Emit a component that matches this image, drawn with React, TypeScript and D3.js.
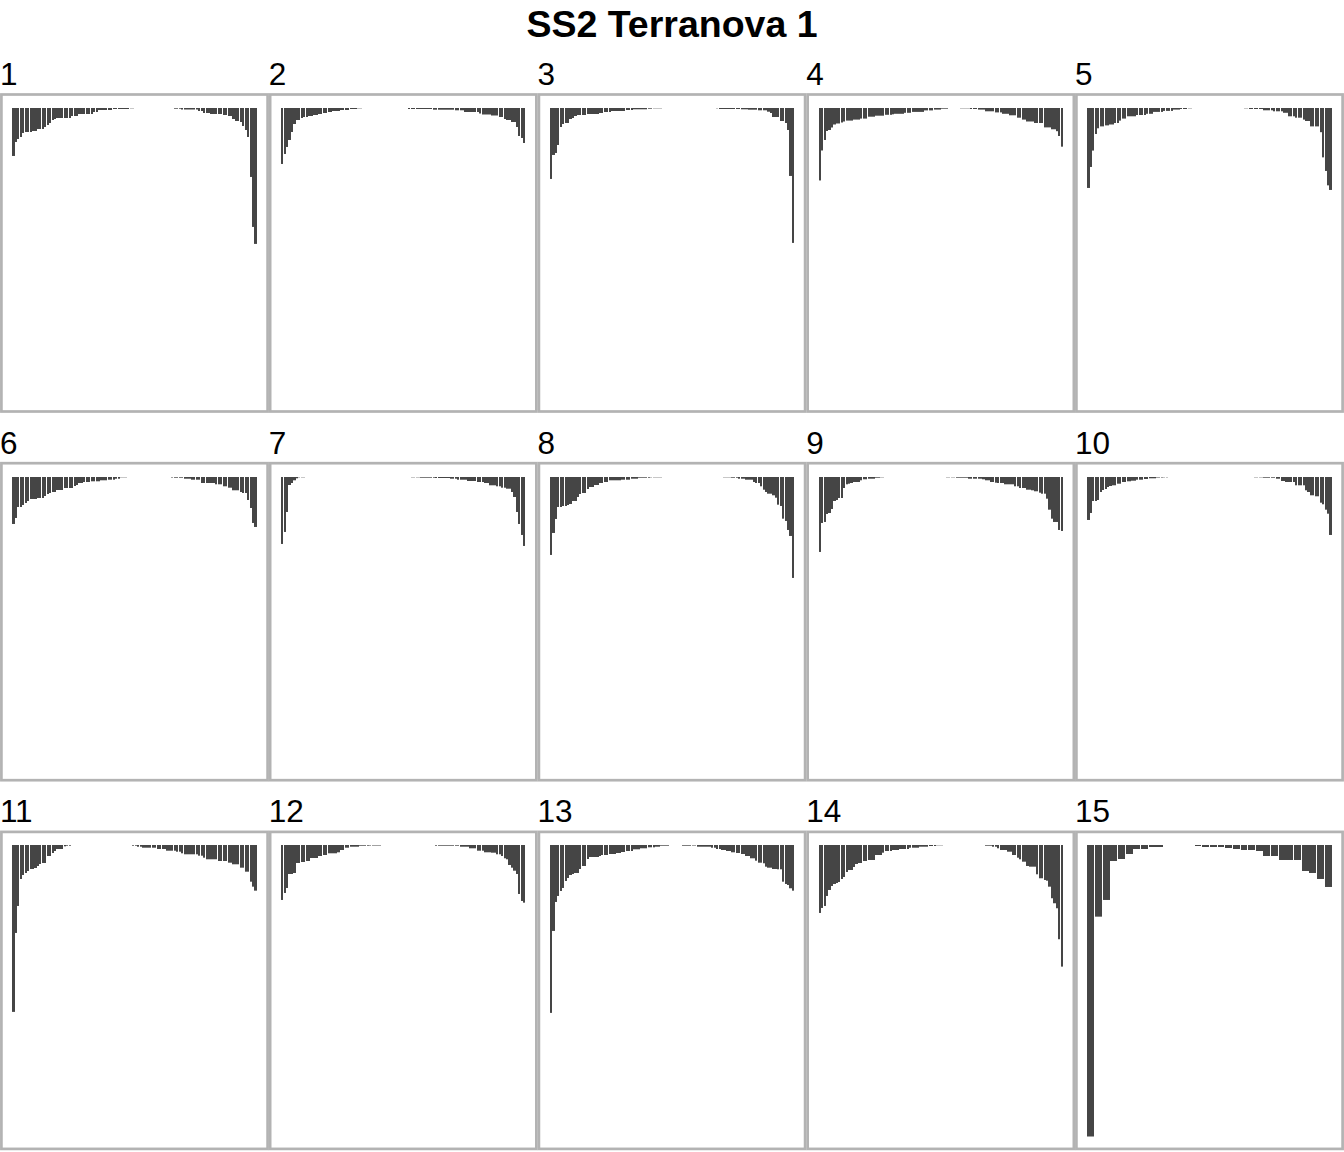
import React from 'react';
import * as d3 from 'd3';

const TITLE = 'SS2 Terranova 1';
const panelLabels = ['1', '2', '3', '4', '5', '6', '7', '8', '9', '10', '11', '12', '13', '14', '15'];

const p1 = [48,34,31,29,25,24,24,24,23,23,
  21,21,21,19,17,15,12,11,10,10,
  10,10,10,10,8,8,8,6,6,6,
  6,6,6,4,4,2,2,2,2,2,
  2,1,1,1,1,1,1,1,0.3,0.3,
  0,0,0,0,0,0,0,0,0,0,
  0,0,0,0,0,0,0.7,0.7,0.7,1.5,
  1.5,1.5,1.5,1.5,1.5,1.5,3,3,5,5,
  5,6,6,6,6,6,7,7,8,8,
  11,13,13,14,18,22,29,69,119,136];
const p2 = [56,46,39,32,24,16,12,12,10,9,
  9,8,8,7,7,6,6,5,5,4,
  4,3,3,3,2,2,2,2,1,1,
  1,0.3,0.3,0,0,0,0,0,0,0,
  0,0,0,0,0,0,0,0,0,0,
  0,0,1,1,1,1,1,1,1,1,
  1,1,1.7,1.7,1.7,1.7,1.7,1.7,1.7,1.7,
  1.7,2.3,2.3,2.3,2.3,4,4,4,4,4,
  4,5.5,6.5,6.5,6.5,6.5,7.5,7.5,7.5,9,
  9,11,12,12,14,14,19,28,30,35];
const p3 = [71,47,45,37,19,16,15,15,11,10,
  8,7,7,7,7,6,6,6,6,6,
  5,5,4,4,4,3,3,3,3,3,
  3,2,2,2,1.3,1.3,1.3,1.3,1.3,1.3,
  0.7,0.7,0.3,0.3,0.3,0.3,0,0,0,0,
  0,0,0,0,0,0,0,0,0,0,
  0,0,0,0,0,0,0,0,0.3,1,
  1,1,1,1,1,1,1,1,1.3,1.3,
  1.3,1.7,1.7,1.7,1.7,2.3,2.3,2.3,2.3,3.7,
  5,9,9,9,13,13,15,22,68,135];
const p4 = [72.5,42.5,32,23,22,19.5,16.5,15.5,15.5,14.5,
  13.5,12.6,12.6,12.6,11.6,11.6,11.6,10.6,10.6,10.6,
  8.7,8.7,8.7,7.7,7.7,7.7,7.7,6.8,6.8,6.8,
  6.3,5.8,5.8,5.8,5.8,4.8,4.8,4.8,3.9,3.9,
  3.9,3.9,3.9,2.4,2.4,2.4,2.4,1.6,1.6,1.6,
  0.7,0.7,0.7,0,0,0,0,0,0.3,0.3,
  0.3,0.3,1,1,1,1.6,1.6,1.6,3.3,3.3,
  3.3,3.3,4.4,4.4,4.4,5.8,5.8,5.8,7.3,7.3,
  7.3,9.7,9.7,11.6,11.6,13.5,13.5,13.5,15,15,
  15,15,19.4,19.4,19.4,21.3,21.3,23.2,28,38.7];
const p5 = [80,59,42.6,26,20.3,18.4,18.4,17.4,17.4,16.5,
  16.5,15,15,12.6,10.6,10.6,8.3,8.3,8.3,8.3,
  7,7,7,7,5.8,5.8,5.8,3.9,3.9,3.9,
  3.9,2.9,2.9,2.9,2.9,1.6,1.6,1.6,1,1,
  1,0.3,0.3,0,0,0,0,0,0,0,
  0,0,0,0,0,0,0,0,0,0,
  0,0,0,0,0.3,0.3,1,1,1,1,
  1,1,2.3,2.3,2.3,2.3,3.3,3.3,3.3,3.3,
  4.8,4.8,8.3,8.3,8.3,9.7,9.7,9.7,11.6,13,
  13,18.4,18.4,18.4,18.4,24.2,49.4,63,77.4,82];
const p6 = [47,41,30,30,28,26,24,22,22,22,
  21,21,21,19,17,16,15,15,13,13,
  13,11,11,11,11,9,8,6,6,5,
  5,5,4.3,4.3,4.3,4.3,3.3,3.3,3.3,2.7,
  2.7,2.7,1.7,1.7,0.3,0.3,0.3,0,0,0,
  0,0,0,0,0,0,0,0,0,0,
  0,0,0,0,0,0.5,0.7,0.7,0.7,0.7,
  1.7,1.7,1.7,2.7,2.7,2.7,2.7,6,6,6,
  6,6,6,7.3,7.3,7.3,9.3,9.3,10.7,10.7,
  13.3,13.3,13.3,15,16,16,23,31,46,50];
const p7 = [67,55,35,8,6,3.3,1.3,0.3,0.3,0.3,
  0,0,0,0,0,0,0,0,0,0,
  0,0,0,0,0,0,0,0,0,0,
  0,0,0,0,0,0,0,0,0,0,
  0,0,0,0,0,0,0,0,0,0,
  0,0,0,0.3,0.3,0.3,0.3,0.7,0.7,0.7,
  0.7,0.7,0.7,1,1,1,1,1,1,1.7,
  1.7,1.7,2.7,2.7,2.7,2.7,4,4,4,4,
  5,5,5,6,6,8.3,8.3,8.3,9.3,9.3,
  10.7,10.7,11.7,11.7,15,20,35,47,58,69];
const p8 = [78,56,42,30,30,29,29,28,27,24,
  24,20,17,16,16,12,10,10,8,8,
  6,6,5,5,3.3,3.3,3.3,3.3,3.3,2.7,
  2.7,2.7,2.7,1.7,1.7,1.7,0.7,0.7,0.7,0.7,
  0.7,0.3,0.3,0.3,0.3,0.3,0,0,0,0,
  0,0,0,0,0,0,0,0,0,0,
  0,0,0,0,0,0,0,0,0,0,
  0,0.3,0.3,0.3,0.7,0.7,0.7,1.7,1.7,1.7,
  2.7,2.7,2.7,5,6,6,9.3,12.7,15,16.7,
  16.7,18.3,20.7,27.7,29,41.7,44,53,59,101];
const p9 = [75,46,45,37,36,32,24,23,21,21,
  11,7.3,6.7,6,5,5,5,3.3,2.3,2.3,
  1.7,1.7,1.7,0.7,0.7,0.3,0.3,0,0,0,
  0,0,0,0,0,0,0,0,0,0,
  0,0,0,0,0,0,0,0,0,0,
  0,0,0.3,0.3,0.3,0.3,0.7,0.7,0.7,0.7,
  0.7,1.7,1.7,1.7,1.7,1.7,1.7,2.3,3.3,3.3,
  5,5,5.7,6,6,6,7.3,7.3,7.3,7.3,
  9.3,9.3,11,11,11,12.7,12.7,13.3,14.3,14.3,
  15.7,16.7,16.7,21.7,32.7,41.7,45,45,53,54];
const p10 = [43,36,24,24,23,15,13,12,10,9,
  8.3,8.3,6.7,6.7,5,5,4.3,4.3,3.7,3.7,
  2.7,2.7,2.7,2,2,1.3,1.3,1.3,0.5,0.5,
  0.5,0.3,0.3,0,0,0,0,0,0,0,
  0,0,0,0,0,0,0,0,0,0,
  0,0,0,0,0,0,0,0,0,0,
  0,0,0,0,0,0,0,0,0.3,0.3,
  0.3,0.3,0.7,0.7,0.7,0.7,0.7,1.7,1.7,4,
  4,5,5,5,5,8.3,8.3,8.3,8.3,13.3,
  15,18.3,18.3,19.3,19.3,25.7,27.3,32.7,36.7,58];
const p11 = [167,88,61,34,30,28,26,24,24,23,
  21,19,18,18,11,11,8,6,4,4,
  4,1.3,0.7,0.7,0,0,0,0,0,0,
  0,0,0,0,0,0,0,0,0,0,
  0,0,0,0,0,0,0,0,0,0.7,
  0.7,1.7,1.7,2.7,2.7,2.7,2.7,2.7,2.7,4,
  4,4,4,5.7,5.7,5.7,5.7,6.7,6.7,8.3,
  9.3,9.3,9.3,9.3,9.3,9.3,10.7,10.7,12.7,14.3,
  14.3,14.3,14.3,14.3,16,16,16,16,17.7,17.7,
  19.3,19.3,19.3,22.7,22.7,26.7,26.7,36.7,41.7,45.7];
const p12 = [55,48,43,29,29,28,18,18,17,17,
  16,16,13,13,13,11,11,10,10,8.3,
  8.3,8.3,8.3,7.3,5,5,2.7,2.7,1.7,1.7,
  1.7,1.7,0.7,0.7,0.7,0.7,0.5,0.5,0.5,0.5,
  0.5,0,0,0,0,0,0,0,0,0,
  0,0,0,0,0,0,0,0,0,0,
  0,0,0,0.7,0.7,0.7,0.7,0.7,0.7,0.7,
  0.7,0.7,0.7,1.7,1.7,1.7,1.7,3.3,3.3,3.3,
  5.7,5.7,5.7,7.3,7.3,7.3,7.7,7.7,9.3,9.3,
  11,13.3,14.3,20,22.7,25.7,29,49,56,57.7];
const p13 = [168,86,57,51,46,43,36,33,30,29,
  28,28,24,21,21,14,12,12,12,12,
  11,10,10,10,9,9,9,8,8,7,
  7,6,6,6,4.3,4.3,4.3,3.3,3.3,3.3,
  2.3,2.3,2.3,1.7,1.7,0.7,0.7,0.7,0.7,0,
  0,0,0,0,0.7,0.7,0.7,0.7,0.5,0.5,
  1.7,1.7,1.7,1.7,1.7,1.7,2.7,2.7,4,4,
  5,5,6,6,7.3,7.3,8,8,9,9,
  11,11,13.3,13.3,15.7,17.7,17.7,18.3,21.7,22.7,
  22.7,24,24,24.3,24.3,36.7,39,40,43.3,45.7];
const p14 = [68,63,61,51,45,41,39,38,37,34,
  32,27,25,25,22,19,18,18,16,16,
  15,15,15,10,10,10,7.7,6,6,6,
  5,5,5,4,4,4,4,2.7,2.7,2.7,
  2.7,1.7,1.7,1.7,1.7,1,1,1,0.3,0.3,
  0.3,0,0,0,0,0,0,0,0,0,
  0,0,0,0,0,0,0,0,0.7,0.7,
  0.7,1.7,1.7,3.3,5,5,5,6.7,6.7,10,
  10,12.7,14.3,16.7,16.7,21,21.7,21.7,21.7,29.3,
  33.3,33.3,35,35.7,41.7,53.3,58.3,63.3,94.3,121.7];
const p15 = [291.7,71.7,55,16,14,9,4,4,2,2,
  0,0,0,0,1,2,2,2,3,4,
  5,5,6,11,11,15,15,15,26,28,
  34,42];

const panels = [p1, p2, p3, p4, p5, p6, p7, p8, p9, p10, p11, p12, p13, p14, p15];

const WIDTH = 1344;
const HEIGHT = 1152;
const COLS = 5;
const PANEL_X0 = 1.4;
const PANEL_PITCH_X = 268.75;
const PANEL_W = 266.2;
const PANEL_Y0 = 94.5;
const PANEL_PITCH_Y = 368.7;
const PANEL_H = 317;
const X_PAD = 11;
const Y_TOP = 13.5;
const PLOT_DEPTH = 291.5;
const BAR_COLOR = '#454545';
const BORDER_COLOR = '#b3b3b3';
const FONT = '"Liberation Sans", Arial, Helvetica, sans-serif';

export default function App() {
  const yMax = d3.max(panels.flat()) as number;
  const y = d3.scaleLinear().domain([0, yMax]).range([0, PLOT_DEPTH]);

  return (
    <svg
      width={WIDTH}
      height={HEIGHT}
      viewBox={`0 0 ${WIDTH} ${HEIGHT}`}
      style={{ position: 'absolute', left: 0, top: 0, display: 'block' }}
      fontFamily={FONT}
    >
      <rect x={0} y={0} width={WIDTH} height={HEIGHT} fill="#ffffff" />
      <text x={WIDTH / 2} y={37} textAnchor="middle" fontSize={37.5} fontWeight="bold" fill="#000">
        {TITLE}
      </text>
      {panels.map((vals, k) => {
        const c = k % COLS;
        const r = Math.floor(k / COLS);
        const L = PANEL_X0 + c * PANEL_PITCH_X;
        const T = PANEL_Y0 + r * PANEL_PITCH_Y;
        const x = d3
          .scaleBand<number>()
          .domain(d3.range(vals.length))
          .range([L + X_PAD, L + PANEL_W - X_PAD])
          .paddingInner(0.1)
          .paddingOuter(0);
        const base = Math.round(T + Y_TOP);
        return (
          <g key={k}>
            <rect x={L} y={T} width={PANEL_W} height={PANEL_H} fill="#ffffff" />
            {vals.map((v, i) => {
              if (!(v > 0)) return null;
              const xs = x(i) as number;
              const x0 = Math.round(xs);
              const x1 = Math.round(xs + x.bandwidth());
              return (
                <rect key={i} x={x0} y={base} width={Math.max(1, x1 - x0)} height={y(v)} fill={BAR_COLOR} />
              );
            })}
            <rect x={L} y={T} width={PANEL_W} height={PANEL_H} fill="none" stroke={BORDER_COLOR} strokeWidth={2.7} />
            <text x={L - 1.5} y={T - 9.5} fontSize={31.5} fill="#000">
              {panelLabels[k]}
            </text>
          </g>
        );
      })}
    </svg>
  );
}
